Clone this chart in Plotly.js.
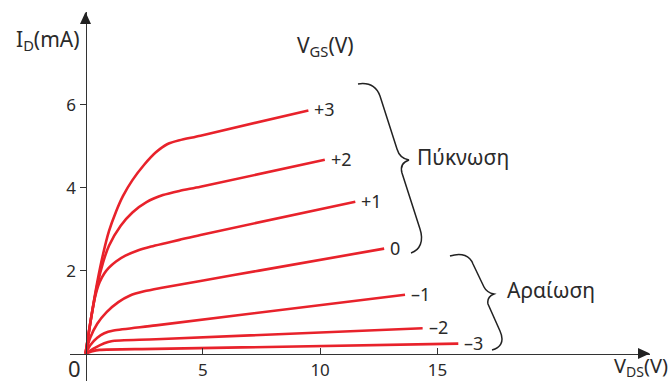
<!DOCTYPE html>
<html><head><meta charset="utf-8">
<script src="https://cdn.plot.ly/plotly-3.0.1.min.js"></script>
<style>html,body{margin:0;padding:0;background:#fff;}#chart{width:672px;height:383px;}</style>
</head><body><div id="chart"></div>
<script>
// ---- data ----
const vgsLabels = ['+3', '+2', '+1', '0', '–1', '–2', '–3'];
const vdsP3 = [0, 0.25, 0.5, 0.75, 1.0, 1.3, 1.6, 2.0, 2.5, 3.0, 3.5, 4.0, 4.9, 9.5];
const idP3  = [0, 0.9, 1.72, 2.4, 2.95, 3.42, 3.8, 4.18, 4.55, 4.85, 5.05, 5.14, 5.25, 5.86];
const vdsP2 = [0, 0.25, 0.5, 0.75, 1.0, 1.5, 2.0, 2.6, 3.3, 4.0, 4.9, 10.2];
const idP2  = [0, 0.9, 1.65, 2.2, 2.6, 3.08, 3.4, 3.65, 3.82, 3.92, 4.02, 4.67];
const vdsP1 = [0, 0.2, 0.4, 0.6, 0.8, 1.0, 1.3, 1.7, 2.2, 2.8, 3.4, 4.0, 4.9, 11.5];
const idP1  = [0, 0.72, 1.35, 1.72, 1.93, 2.07, 2.22, 2.36, 2.48, 2.58, 2.66, 2.74, 2.86, 3.66];
const vdsZ0 = [0, 0.2, 0.5, 0.9, 1.4, 1.9, 2.5, 3.2, 4.9, 7.4, 12.73];
const idZ0  = [0, 0.38, 0.72, 1.0, 1.24, 1.40, 1.50, 1.58, 1.75, 2.0, 2.53];
const vdsM1 = [0, 0.2, 0.5, 0.8, 1.2, 3.0, 13.62];
const idM1  = [0, 0.2, 0.38, 0.49, 0.555, 0.68, 1.42];
const vdsM2 = [0, 0.4, 0.8, 1.1, 3.0, 14.37];
const idM2  = [0, 0.14, 0.25, 0.30, 0.345, 0.61];
const vdsM3 = [0, 0.3, 0.6, 3.0, 15.89];
const idM3  = [0, 0.06, 0.09, 0.114, 0.24];
const xTickVals = [5, 10, 15];
const yTickVals = [2, 4, 6];

// ---- layout geometry ----
const W = 672, H = 383, ML = 70, MR = 22, MT = 12, MB = 2;
const xr = [-0.661, 24.062], yr = [-0.660, 8.231];
const PW = W - ML - MR, PH = H - MT - MB;
const px = v => (v - ML) / PW;          // pixel x -> paper
const py = v => (H - MB - v) / PH;      // pixel y -> paper
const FONT = 'Noto Sans, DejaVu Sans, sans-serif';
const INK = '#2a2a2a';
const RED = '#e8222b';

const curves = [
  [vdsP3, idP3], [vdsP2, idP2], [vdsP1, idP1], [vdsZ0, idZ0],
  [vdsM1, idM1], [vdsM2, idM2], [vdsM3, idM3]
];

const traces = curves.map(([x, y], i) => ({
  x: x, y: y, type: 'scatter', mode: 'lines', name: vgsLabels[i],
  line: {color: RED, width: 2.6, shape: 'spline', smoothing: 0.7},
  hoverinfo: 'skip', showlegend: false, cliponaxis: false
}));

const annotations = curves.map(([x, y], i) => ({
  x: x[x.length - 1], y: y[y.length - 1], xref: 'x', yref: 'y',
  text: vgsLabels[i], showarrow: false, xanchor: 'left', yanchor: 'middle',
  xshift: 4, yshift: 1, font: {family: FONT, size: 18, color: INK}
}));

function txt(text, x, y, size, xanchor) {
  return {text: text, x: px(x), y: py(y), xref: 'paper', yref: 'paper', showarrow: false,
    xanchor: xanchor || 'center', yanchor: 'middle', font: {family: FONT, size: size, color: INK}};
}
annotations.push(txt('0', 74, 368, 22));
annotations.push(txt('I<sub>D</sub>(mA)', 48, 40, 21));
annotations.push(txt('V<sub>GS</sub>(V)', 325, 46, 21));
annotations.push(txt('V<sub>DS</sub>(V)', 670, 366, 20, 'right'));
annotations.push(txt('Πύκνωση', 415, 157, 21, 'left'));
annotations.push(txt('Αραίωση', 505, 290, 21, 'left'));

function pathFrom(cmds) {
  return cmds.map(c => {
    const l = c[0]; const nums = [];
    for (let k = 1; k < c.length; k += 2) nums.push(px(c[k]).toFixed(5) + ',' + py(c[k + 1]).toFixed(5));
    return l + ' ' + nums.join(' ');
  }).join(' ');
}
const x0px = ML + (0 - xr[0]) / (xr[1] - xr[0]) * PW;
const y0px = H - MB - (0 - yr[0]) / (yr[1] - yr[0]) * PH;

const shapes = [
  {type: 'path', xref: 'paper', yref: 'paper', fillcolor: '#222', line: {width: 0},
   path: pathFrom([['M', W - MR, y0px], ['L', W - MR - 12, y0px - 5.5], ['L', W - MR - 12, y0px + 5.5], ['Z']])},
  {type: 'path', xref: 'paper', yref: 'paper', fillcolor: '#222', line: {width: 0},
   path: pathFrom([['M', x0px, MT], ['L', x0px - 5.5, MT + 12], ['L', x0px + 5.5, MT + 12], ['Z']])},
  {type: 'path', xref: 'paper', yref: 'paper', line: {color: '#222', width: 1.5},
   path: pathFrom([['M', 358, 84], ['C', 371, 82, 377, 88, 380, 96], ['L', 397, 149],
     ['C', 399, 156, 403, 159, 409, 160], ['C', 403, 162, 400, 166, 402, 173], ['L', 420, 229],
     ['C', 424, 241, 420, 250, 411, 253]])},
  {type: 'path', xref: 'paper', yref: 'paper', line: {color: '#222', width: 1.5},
   path: pathFrom([['M', 450, 256], ['C', 462, 252, 470, 256, 473, 264], ['L', 484, 287],
     ['C', 486, 291, 489, 293, 494, 294], ['C', 489, 296, 487, 299, 488, 304], ['L', 500, 331],
     ['C', 505, 342, 500, 348, 492, 350]])}
];

const axisCommon = {
  showgrid: false, zeroline: false, showline: true, linecolor: '#333', linewidth: 1.5,
  tickcolor: '#333', tickwidth: 1.2, ticklen: 6, fixedrange: true,
  tickfont: {family: FONT, size: 17, color: INK}, anchor: 'free'
};

const layout = {
  width: W, height: H, margin: {l: ML, r: MR, t: MT, b: MB, pad: 0},
  paper_bgcolor: '#fff', plot_bgcolor: 'rgba(0,0,0,0)', showlegend: false,
  xaxis: Object.assign({}, axisCommon, {range: xr, tickvals: xTickVals, ticks: 'inside',
    position: (0 - yr[0]) / (yr[1] - yr[0])}),
  yaxis: Object.assign({}, axisCommon, {range: yr, tickvals: yTickVals, ticks: 'outside',
    position: (0 - xr[0]) / (xr[1] - xr[0])}),
  annotations: annotations, shapes: shapes
};

Plotly.newPlot('chart', traces, layout, {displayModeBar: false, staticPlot: true});
</script></body></html>
